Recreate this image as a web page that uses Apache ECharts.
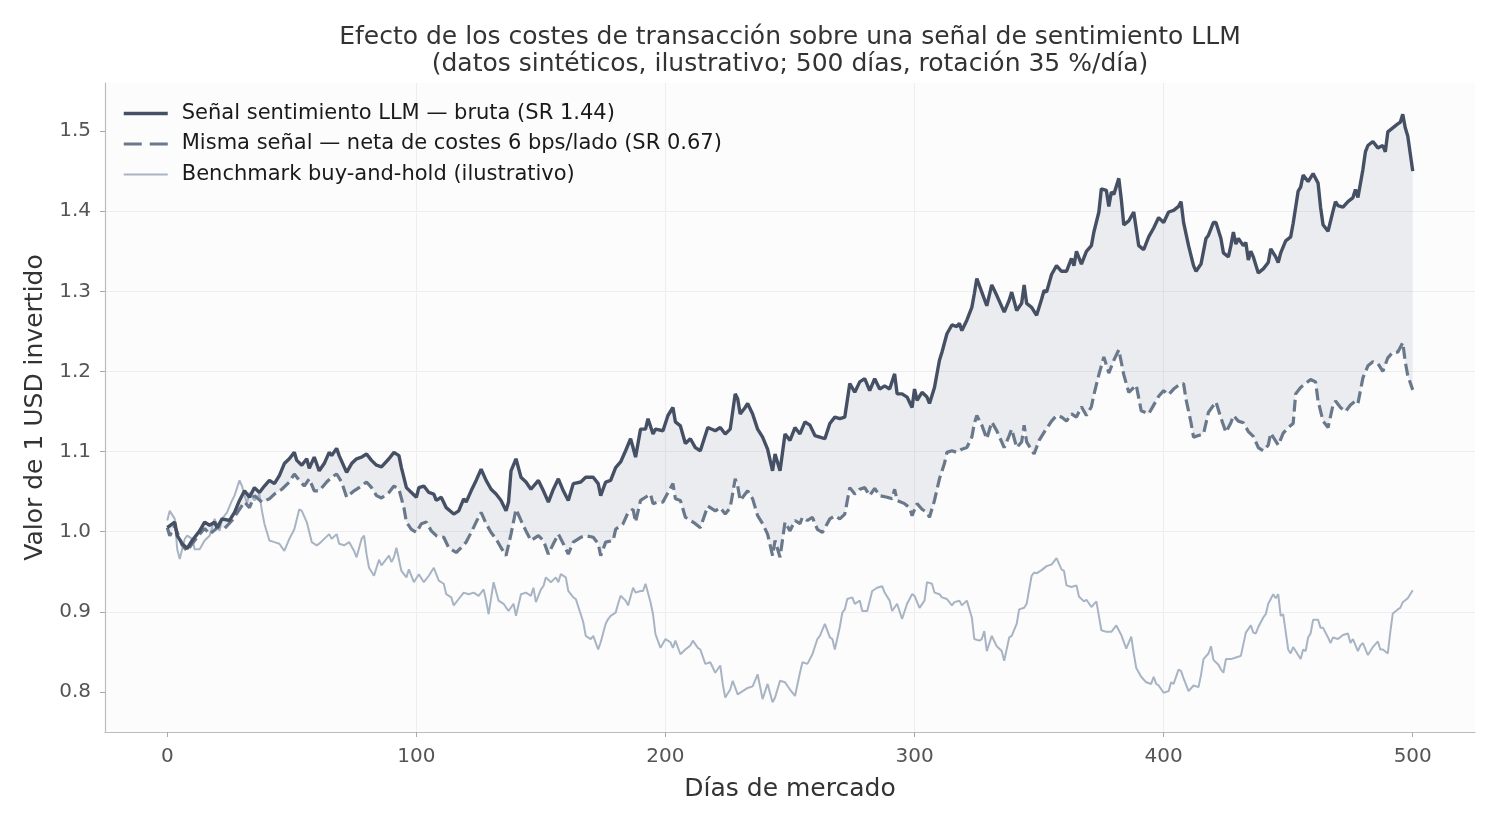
<!DOCTYPE html>
<html>
<head>
<meta charset="utf-8">
<title>Costes de transacción</title>
<script src="https://cdn.jsdelivr.net/npm/echarts@6/dist/echarts.min.js"></script>
<style>
  html, body { margin: 0; padding: 0; background: #ffffff; }
  #chart { width: 1500px; height: 825px; }
</style>
</head>
<body>
<div id="chart"></div>
<script>
// [día, valor]
var gross = [[0,1.005],[3,1.012],[4,0.995],[6,0.985],[8,0.979],[10,0.989],[13,1.001],[15,1.012],[17,1.008],[19,1.012],[20,1.005],[22,1.016],[25,1.014],[27,1.024],[29,1.039],[31,1.051],[33,1.043],[35,1.055],[37,1.049],[39,1.057],[41,1.064],[43,1.060],[45,1.070],[47,1.085],[49,1.091],[51,1.099],[52,1.089],[54,1.083],[56,1.091],[57,1.079],[59,1.093],[61,1.076],[63,1.085],[65,1.099],[66,1.095],[68,1.104],[69,1.095],[72,1.074],[74,1.085],[76,1.091],[78,1.093],[80,1.097],[82,1.089],[84,1.083],[86,1.081],[89,1.091],[91,1.099],[93,1.095],[94,1.080],[96,1.055],[98,1.049],[100,1.043],[101,1.055],[103,1.057],[105,1.049],[107,1.047],[108,1.039],[110,1.043],[112,1.030],[115,1.022],[117,1.026],[119,1.041],[120,1.037],[122,1.051],[124,1.064],[126,1.078],[128,1.064],[130,1.053],[132,1.047],[134,1.039],[136,1.026],[137,1.037],[138,1.076],[140,1.091],[142,1.068],[144,1.062],[146,1.053],[149,1.064],[151,1.051],[153,1.037],[155,1.053],[157,1.066],[159,1.051],[161,1.039],[163,1.060],[166,1.062],[168,1.068],[171,1.068],[173,1.060],[174,1.045],[176,1.062],[178,1.064],[180,1.080],[182,1.087],[184,1.101],[186,1.116],[187,1.105],[188,1.093],[190,1.128],[192,1.128],[193,1.141],[195,1.122],[196,1.128],[199,1.126],[201,1.145],[203,1.155],[204,1.137],[206,1.132],[208,1.110],[210,1.116],[212,1.105],[214,1.101],[217,1.130],[220,1.126],[222,1.130],[224,1.122],[226,1.128],[228,1.172],[229,1.166],[230,1.147],[232,1.155],[233,1.160],[235,1.147],[237,1.128],[239,1.118],[241,1.103],[243,1.076],[244,1.097],[246,1.076],[248,1.122],[250,1.114],[252,1.130],[254,1.122],[256,1.137],[258,1.133],[260,1.120],[262,1.118],[264,1.116],[266,1.135],[268,1.143],[270,1.141],[272,1.143],[274,1.185],[276,1.174],[278,1.187],[280,1.191],[282,1.176],[284,1.191],[286,1.178],[288,1.182],[290,1.178],[292,1.197],[293,1.172],[295,1.172],[297,1.168],[299,1.155],[300,1.178],[301,1.164],[303,1.174],[305,1.168],[306,1.160],[308,1.180],[310,1.214],[311,1.224],[313,1.247],[315,1.258],[317,1.256],[318,1.260],[319,1.251],[321,1.264],[323,1.280],[324,1.297],[325,1.316],[327,1.299],[329,1.282],[331,1.308],[333,1.295],[336,1.274],[338,1.289],[339,1.299],[341,1.276],[343,1.285],[344,1.308],[345,1.285],[347,1.280],[349,1.270],[351,1.290],[352,1.301],[353,1.299],[355,1.321],[357,1.332],[359,1.325],[361,1.325],[363,1.341],[364,1.332],[365,1.350],[367,1.334],[369,1.350],[371,1.357],[372,1.374],[374,1.399],[375,1.428],[377,1.426],[378,1.406],[379,1.424],[380,1.421],[382,1.441],[383,1.415],[384,1.383],[386,1.388],[388,1.399],[390,1.357],[392,1.352],[394,1.368],[396,1.379],[398,1.392],[400,1.386],[402,1.399],[404,1.401],[406,1.406],[407,1.412],[408,1.386],[410,1.357],[412,1.332],[413,1.325],[415,1.334],[417,1.366],[418,1.370],[420,1.386],[421,1.386],[423,1.366],[424,1.348],[426,1.343],[427,1.357],[428,1.374],[429,1.359],[430,1.366],[432,1.357],[433,1.361],[434,1.339],[435,1.350],[436,1.343],[437,1.333],[438,1.323],[440,1.328],[442,1.336],[443,1.353],[445,1.343],[446,1.336],[447,1.348],[449,1.363],[451,1.368],[452,1.385],[454,1.425],[455,1.430],[456,1.445],[458,1.437],[459,1.442],[460,1.447],[462,1.435],[463,1.405],[464,1.383],[466,1.375],[468,1.400],[469,1.412],[470,1.407],[472,1.405],[474,1.412],[476,1.417],[477,1.427],[478,1.417],[480,1.452],[481,1.474],[482,1.482],[484,1.487],[486,1.479],[488,1.482],[489,1.474],[490,1.499],[492,1.504],[494,1.509],[495,1.511],[496,1.521],[497,1.504],[498,1.494],[500,1.450]];

var net = [[0,1.005],[1,0.995],[3,1.007],[6,0.983],[8,0.976],[10,0.985],[13,0.997],[15,1.004],[17,0.997],[21,1.007],[23,1.004],[26,1.014],[29,1.028],[31,1.037],[33,1.030],[35,1.045],[38,1.037],[41,1.041],[43,1.047],[46,1.053],[49,1.062],[51,1.072],[53,1.064],[55,1.057],[57,1.066],[59,1.051],[61,1.051],[64,1.062],[66,1.068],[68,1.072],[70,1.062],[72,1.043],[75,1.051],[77,1.055],[80,1.062],[82,1.055],[84,1.045],[86,1.042],[89,1.049],[91,1.057],[93,1.053],[95,1.030],[96,1.012],[98,1.003],[100,0.999],[102,1.010],[104,1.012],[106,1.001],[108,0.995],[111,0.993],[113,0.980],[116,0.974],[118,0.980],[120,0.987],[122,0.999],[124,1.012],[126,1.024],[128,1.010],[130,0.999],[132,0.991],[134,0.980],[136,0.970],[138,0.997],[140,1.028],[142,1.014],[144,1.001],[146,0.989],[149,0.995],[151,0.989],[153,0.972],[155,0.985],[157,0.997],[159,0.985],[161,0.972],[163,0.987],[166,0.993],[168,0.995],[171,0.993],[173,0.985],[174,0.970],[176,0.987],[179,0.989],[180,1.003],[183,1.010],[185,1.024],[187,1.028],[188,1.012],[190,1.039],[192,1.043],[194,1.047],[195,1.035],[197,1.037],[199,1.037],[200,1.043],[203,1.060],[204,1.041],[206,1.039],[208,1.018],[210,1.014],[212,1.010],[214,1.005],[217,1.032],[220,1.026],[222,1.030],[224,1.022],[226,1.030],[228,1.066],[229,1.057],[230,1.039],[233,1.051],[235,1.041],[237,1.020],[239,1.010],[241,0.997],[243,0.970],[244,0.989],[246,0.968],[248,1.012],[250,1.001],[252,1.014],[254,1.010],[255,1.018],[257,1.014],[259,1.018],[261,1.003],[263,0.999],[266,1.016],[268,1.020],[270,1.016],[272,1.022],[274,1.055],[276,1.047],[278,1.053],[280,1.055],[282,1.045],[284,1.054],[286,1.045],[289,1.043],[291,1.041],[292,1.053],[293,1.039],[296,1.035],[298,1.030],[299,1.020],[301,1.035],[303,1.028],[305,1.024],[306,1.018],[308,1.039],[310,1.066],[312,1.085],[313,1.099],[315,1.101],[317,1.099],[319,1.103],[321,1.105],[323,1.118],[324,1.135],[325,1.145],[327,1.133],[329,1.116],[331,1.137],[333,1.126],[336,1.105],[338,1.120],[339,1.128],[341,1.105],[343,1.112],[344,1.133],[345,1.112],[348,1.097],[350,1.114],[352,1.124],[355,1.138],[357,1.145],[359,1.143],[361,1.138],[363,1.147],[365,1.143],[367,1.156],[369,1.145],[371,1.156],[372,1.171],[374,1.196],[376,1.218],[378,1.198],[380,1.214],[382,1.227],[384,1.196],[386,1.174],[389,1.183],[391,1.151],[394,1.147],[396,1.158],[398,1.169],[400,1.176],[402,1.171],[404,1.178],[406,1.183],[408,1.185],[409,1.165],[411,1.136],[412,1.118],[414,1.120],[416,1.122],[418,1.149],[421,1.162],[423,1.142],[425,1.124],[427,1.136],[428,1.145],[430,1.138],[432,1.136],[434,1.125],[436,1.119],[438,1.105],[440,1.101],[442,1.108],[443,1.123],[446,1.108],[448,1.123],[450,1.130],[452,1.135],[453,1.172],[455,1.180],[457,1.185],[459,1.190],[461,1.187],[462,1.163],[464,1.138],[466,1.130],[468,1.158],[469,1.163],[471,1.155],[473,1.150],[475,1.158],[477,1.163],[478,1.160],[480,1.192],[482,1.207],[484,1.212],[486,1.210],[488,1.200],[490,1.217],[492,1.224],[494,1.224],[496,1.236],[497,1.212],[498,1.195],[500,1.177]];

var bench = [[0,1.014],[1,1.026],[3,1.016],[4,0.978],[5,0.966],[7,0.991],[8,0.995],[10,0.991],[11,0.978],[13,0.978],[15,0.989],[17,0.995],[19,1.016],[21,1.001],[22,1.016],[24,1.024],[26,1.039],[27,1.045],[29,1.064],[30,1.057],[32,1.035],[33,1.049],[35,1.039],[37,1.047],[38,1.026],[39,1.010],[41,0.989],[43,0.987],[45,0.985],[47,0.976],[49,0.991],[51,1.003],[53,1.028],[54,1.026],[56,1.012],[58,0.987],[60,0.983],[61,0.985],[63,0.991],[65,0.997],[66,0.991],[68,0.997],[69,0.985],[71,0.983],[73,0.987],[75,0.976],[76,0.968],[78,0.991],[79,0.995],[80,0.972],[81,0.955],[83,0.945],[85,0.965],[86,0.958],[87,0.962],[89,0.970],[90,0.962],[91,0.968],[92,0.980],[94,0.951],[96,0.943],[97,0.953],[99,0.937],[101,0.947],[103,0.937],[105,0.945],[107,0.955],[109,0.939],[111,0.935],[112,0.922],[114,0.918],[115,0.908],[117,0.916],[119,0.924],[121,0.922],[123,0.924],[125,0.920],[127,0.928],[128,0.914],[129,0.897],[131,0.937],[133,0.914],[135,0.910],[137,0.901],[139,0.910],[140,0.895],[142,0.922],[144,0.924],[146,0.920],[147,0.930],[148,0.912],[150,0.928],[151,0.932],[152,0.943],[154,0.937],[156,0.943],[157,0.937],[158,0.947],[160,0.943],[161,0.926],[163,0.918],[164,0.916],[166,0.897],[167,0.887],[168,0.870],[170,0.866],[171,0.870],[173,0.853],[174,0.862],[176,0.885],[177,0.891],[178,0.895],[180,0.899],[181,0.910],[182,0.920],[184,0.914],[185,0.908],[187,0.930],[188,0.924],[190,0.926],[191,0.926],[192,0.935],[194,0.912],[195,0.897],[196,0.872],[198,0.855],[200,0.866],[202,0.862],[203,0.855],[204,0.864],[206,0.847],[208,0.853],[210,0.858],[211,0.864],[213,0.855],[214,0.853],[216,0.835],[218,0.837],[220,0.824],[222,0.833],[223,0.810],[224,0.793],[226,0.803],[227,0.814],[229,0.797],[231,0.801],[233,0.805],[235,0.807],[237,0.822],[239,0.791],[241,0.810],[243,0.787],[244,0.793],[246,0.814],[248,0.812],[250,0.803],[252,0.795],[254,0.824],[255,0.837],[257,0.835],[259,0.847],[261,0.866],[262,0.870],[264,0.885],[266,0.868],[267,0.866],[268,0.853],[270,0.881],[271,0.899],[272,0.903],[273,0.916],[275,0.918],[276,0.910],[278,0.914],[279,0.901],[281,0.901],[283,0.926],[285,0.930],[287,0.932],[288,0.924],[290,0.914],[291,0.901],[293,0.910],[295,0.891],[297,0.910],[299,0.922],[300,0.920],[302,0.905],[304,0.914],[305,0.937],[307,0.935],[308,0.924],[310,0.922],[311,0.918],[313,0.916],[315,0.908],[316,0.912],[318,0.914],[319,0.908],[321,0.914],[323,0.893],[324,0.866],[326,0.864],[327,0.866],[328,0.876],[329,0.851],[331,0.870],[333,0.857],[335,0.851],[336,0.839],[338,0.868],[339,0.870],[341,0.885],[342,0.903],[344,0.905],[345,0.910],[347,0.945],[348,0.949],[349,0.948],[351,0.952],[353,0.957],[355,0.959],[357,0.967],[359,0.953],[360,0.951],[361,0.933],[363,0.931],[365,0.933],[366,0.919],[368,0.913],[369,0.915],[371,0.906],[373,0.913],[375,0.877],[377,0.875],[379,0.875],[381,0.883],[383,0.871],[385,0.854],[387,0.869],[388,0.848],[389,0.830],[391,0.819],[393,0.812],[395,0.810],[396,0.819],[397,0.810],[398,0.808],[400,0.799],[402,0.801],[403,0.812],[404,0.810],[406,0.828],[407,0.826],[408,0.817],[410,0.801],[412,0.808],[414,0.806],[415,0.821],[416,0.841],[418,0.848],[419,0.857],[420,0.840],[422,0.834],[423,0.828],[424,0.824],[425,0.841],[427,0.841],[429,0.843],[431,0.845],[433,0.874],[435,0.883],[436,0.874],[437,0.873],[438,0.881],[440,0.893],[441,0.897],[442,0.910],[444,0.922],[445,0.917],[446,0.922],[447,0.895],[448,0.897],[450,0.853],[451,0.848],[452,0.856],[454,0.846],[455,0.841],[456,0.853],[457,0.851],[458,0.868],[459,0.873],[460,0.890],[462,0.890],[463,0.880],[464,0.880],[466,0.868],[467,0.861],[468,0.868],[470,0.866],[472,0.871],[474,0.873],[475,0.861],[476,0.866],[478,0.851],[479,0.858],[480,0.861],[482,0.846],[483,0.851],[484,0.856],[486,0.863],[487,0.853],[488,0.853],[490,0.848],[491,0.875],[492,0.898],[494,0.903],[495,0.905],[496,0.912],[498,0.917],[500,0.927]];

var xTicks = [0, 100, 200, 300, 400, 500];
var yTicks = [0.8, 0.9, 1.0, 1.1, 1.2, 1.3, 1.4, 1.5];

var names = [
  "Señal sentimiento LLM — bruta (SR 1.44)",
  "Misma señal — neta de costes 6 bps/lado (SR 0.67)",
  "Benchmark buy-and-hold (ilustrativo)"
];

var myChart = echarts.init(document.getElementById("chart"));
var font = "DejaVu Sans";

var option = {
  backgroundColor: "#ffffff",
  animation: false,
  title: {
    text: "Efecto de los costes de transacción sobre una señal de sentimiento LLM\n(datos sintéticos, ilustrativo; 500 días, rotación 35 %/día)",
    left: 785,
    top: 19,
    textAlign: "center",
    textStyle: { fontFamily: font, fontSize: 25, fontWeight: "normal", color: "#333333", lineHeight: 27 }
  },
  legend: {
    data: [
      { name: names[0], lineStyle: { width: 3.5 } },
      { name: names[1], lineStyle: { width: 3.2, type: [18, 8] } },
      { name: names[2], lineStyle: { width: 2 } }
    ],
    orient: "vertical",
    left: 117,
    top: 98,
    itemWidth: 44,
    itemHeight: 14,
    itemGap: 9.5,
    itemStyle: { opacity: 0 },
    textStyle: { fontFamily: font, fontSize: 21, color: "#1a1a1a", padding: [0, 0, 0, 9] }
  },
  grid: {
    left: 105, right: 25, top: 83, bottom: 93,
    show: true, backgroundColor: "#fcfcfc", borderWidth: 0
  },
  xAxis: {
    type: "value",
    min: -25, max: 525,
    splitNumber: 5,
    name: "Días de mercado",
    nameLocation: "middle",
    nameGap: 45,
    nameTextStyle: { fontFamily: font, fontSize: 25, color: "#333333" },
    axisLine: { onZero: false, lineStyle: { color: "#bcbcbc", width: 1.2 } },
    axisTick: { show: true, length: 5, customValues: xTicks, lineStyle: { color: "#aaaaaa" } },
    axisLabel: { fontFamily: font, fontSize: 20, color: "#555555", margin: 15, customValues: xTicks },
    splitLine: { show: true, showMinLine: false, showMaxLine: false, lineStyle: { color: "#eeeeee", width: 1 } }
  },
  yAxis: {
    type: "value",
    min: 0.75, max: 1.56,
    splitNumber: 8,
    name: "Valor de 1 USD invertido",
    nameLocation: "middle",
    nameGap: 56,
    nameTextStyle: { fontFamily: font, fontSize: 25, color: "#333333" },
    axisLine: { show: true, onZero: false, lineStyle: { color: "#bcbcbc", width: 1.2 } },
    axisTick: { show: true, length: 5, customValues: yTicks, lineStyle: { color: "#aaaaaa" } },
    axisLabel: { fontFamily: font, fontSize: 20, color: "#555555", margin: 14, customValues: yTicks,
      formatter: function (v) { return v.toFixed(1); } },
    splitLine: { show: true, showMinLine: false, showMaxLine: false, lineStyle: { color: "#eeeeee", width: 1 } }
  },
  series: [
    {
      name: "banda",
      type: "custom",
      silent: true,
      z: 1,
      data: [[0, 1]],
      renderItem: function (params, api) {
        var pts = gross.map(function (p) { return api.coord(p); });
        var back = net.slice().reverse().map(function (p) { return api.coord(p); });
        return {
          type: "polygon",
          shape: { points: pts.concat(back) },
          style: { fill: "rgba(70,82,110,0.09)", stroke: null }
        };
      }
    },
    {
      name: names[2],
      type: "line",
      data: bench,
      symbol: "none",
      z: 2,
      lineStyle: { color: "#a8b4c4", width: 2 },
      itemStyle: { color: "#a8b4c4" }
    },
    {
      name: names[1],
      type: "line",
      data: net,
      symbol: "none",
      z: 3,
      lineStyle: { color: "#6a788c", width: 3.2, type: [12, 5] },
      itemStyle: { color: "#6a788c" }
    },
    {
      name: names[0],
      type: "line",
      data: gross,
      symbol: "none",
      z: 4,
      lineStyle: { color: "#465065", width: 3.4 },
      itemStyle: { color: "#465065" }
    }
  ]
};

myChart.setOption(option);
</script>
</body>
</html>
